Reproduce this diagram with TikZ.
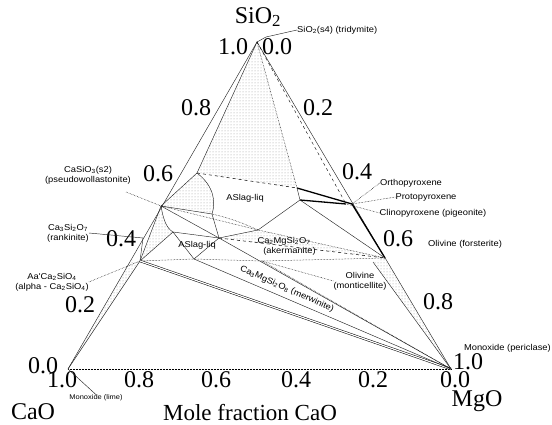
\documentclass[tikz,border=0pt]{standalone}
\usepackage{fontspec}
\setmainfont{Liberation Serif}
\newfontfamily\lblfont[FakeStretch=1.1]{Liberation Sans}
\usetikzlibrary{patterns}

\begin{document}
\begin{tikzpicture}[x=1pt,y=-1pt,
  tick/.style={font=\fontsize{24}{24}\selectfont,inner sep=0pt},
  phase/.style={font=\lblfont\fontsize{8.5}{10}\selectfont,inner sep=0pt,align=center},
  bnd/.style={line width=0.45pt,black!85},
  heavy/.style={line width=1.3pt},
  tie/.style={densely dotted,line width=0.5pt},
  stip/.style={pattern=dots,pattern color=black!40}]
\useasboundingbox (0,0) rectangle (552,425);

% corners and compounds
\coordinate (S) at (257,42);
\coordinate (C) at (68,369);
\coordinate (M) at (451,369);
\coordinate (wo) at (161,206);
\coordinate (rk) at (143,238);
\coordinate (cs) at (140,261);
\coordinate (e1) at (131,260);
\coordinate (la) at (197,173);
\coordinate (lb) at (297,188);
\coordinate (lc) at (300,200);
\coordinate (ld) at (212,214);
\coordinate (le) at (258,230);
\coordinate (lf) at (173,232);
\coordinate (ak) at (219,238);
\coordinate (mw) at (194,259);
\coordinate (mo) at (262,261);
\coordinate (px) at (352,204);
\coordinate (pi) at (346,204);
\coordinate (fo) at (385,258);
\coordinate (fb) at (373,262);

% two-phase regions
\fill[stip] (S) -- (la) -- (lb) -- cycle;
\fill[stip] (wo) -- (la) .. controls (214,186) and (216,202) .. (ld) -- cycle;
\fill[stip] (wo) .. controls (163,218) and (166,228) .. (lf) -- (cs) -- cycle;
\fill[stip] (C) -- (cs) -- (e1) -- cycle;
\fill[stip] (fb) -- (fo) -- (M) -- cycle;
\fill[stip] (le) -- (ak) -- (fo) -- cycle;

% triangle
\draw[bnd] (C) -- (S) -- (M);
\draw[tie] (C) -- (M);
\draw[dashed,line width=0.4pt] (S) -- (pi);
\draw[heavy] (px) -- (fo);

% phase boundaries and tie lines
\draw[bnd] (C) -- (cs) -- (wo);
\draw[bnd] (cs) -- (rk);
\draw[bnd] (S) -- (la) -- (wo);
\draw[tie] (S) -- (lb);
\draw[dashed,line width=0.5pt] (la) -- (lb);
\draw[heavy] (lb) -- (px);
\draw[heavy] (lc) -- (pi);
\draw[bnd] (lb) -- (lc) -- (le);
\draw[bnd] (la) .. controls (214,186) and (216,202) .. (ld) -- (ak);
\draw[tie] (ld) .. controls (230,218) and (245,224) .. (le);
\draw[bnd] (wo) -- (ld);
\draw[bnd] (wo) -- (ak);
\draw[tie] (wo) -- (le);
\draw[bnd] (wo) .. controls (163,218) and (166,228) .. (lf) -- (mw) -- (ak) -- (lf);
\draw[bnd] (cs) -- (lf);
\draw[tie] (cs) -- (mw) -- (mo) -- (fo);
\draw[bnd] (ak) -- (le);
\draw[dashed,line width=0.5pt] (ak) -- (fo);
\draw[bnd] (lc) -- (fo);
\draw[tie] (le) -- (fo);
\draw[double,double distance=1.2pt,line width=0.5pt] (cs) -- (M);
\draw[bnd] (mw) -- (M);
\draw[bnd] (ak) -- (M);
\draw[tie] (mo) -- (M);
\draw[bnd] (fb) -- (M);

% axis numbers
\foreach \v/\x/\y [count=\i] in {1.0/233/47,0.8/196/108,0.6/158/174,0.4/121/239,0.2/80/305,0.0/43/366}
  \node[tick] (left\i) at (\x,\y) {\v};
\foreach \v/\x/\y [count=\i] in {0.0/277/47,0.2/318/108,0.4/357/172,0.6/398/239,0.8/438/302,1.0/468/362}
  \node[tick] (right\i) at (\x,\y) {\v};
\foreach \v/\x [count=\i] in {1.0/62,0.8/139,0.6/216,0.4/296,0.2/373,0.0/455}
  \node[tick] (bottom\i) at (\x,380) {\v};

\node[tick] (sio) at (258,17) {SiO\textsubscript{2}};
\node[tick] (cao) at (33,412) {CaO};
\node[tick] (mgo) at (477,401) {MgO};
\node[tick,font=\fontsize{23}{23}\selectfont] (axis) at (250,413) {Mole fraction CaO};

% phase names
\coordinate (tk) at (266,37);
\node[phase,anchor=west] (tri) at (297,30) {SiO\textsubscript{2}(s4) (tridymite)};
\draw[bnd] (S) -- (tk) -- (tri.west);

\coordinate (pw1) at (126,192);
\node[phase] (pwo) at (88,175) {CaSiO\textsubscript{3}(s2)\\(pseudowollastonite)};
\draw[tie] (pw1) -- (wo);

\node[phase] (rnk) at (68,233) {Ca\textsubscript{3}Si\textsubscript{2}O\textsubscript{7}\\(rankinite)};
\draw[bnd] (rnk.east) -- (rk);

\node[phase] (alp) at (52,282) {Aa'Ca\textsubscript{2}SiO\textsubscript{4}\\(alpha - Ca\textsubscript{2}SiO\textsubscript{4})};
\draw[tie] (alp.east) -- (cs);

\node[phase,font=\lblfont\fontsize{6.8}{8}\selectfont] (lim) at (96,398) {Monoxide (lime)};
\draw[bnd] (C) -- (lim.north);

\node[phase,anchor=east] (per) at (551,348) {Monoxide (periclase)};

\node[phase] (opx) at (411,183) {Orthopyroxene};
\node[phase] (ppx) at (426,197) {Protopyroxene};
\node[phase] (cpx) at (433,213) {Clinopyroxene (pigeonite)};
\draw[tie] (opx.west) -- (px);
\draw[tie] (ppx.west) -- (px);
\draw[tie] (cpx.west) -- (pi);

\node[phase] (ofo) at (465,244) {Olivine (forsterite)};
\node[phase] (omo) at (360,281) {Olivine\\(monticellite)};
\draw[tie] (omo.west) -- (mo);

\node[phase] (liq1) at (245,198) {ASlag-liq};
\node[phase] (liq2) at (197,245) {ASlag-liq};
\node[phase] (akl) at (284,246) {Ca\textsubscript{2}MgSi\textsubscript{2}O\textsubscript{7}\\\hspace*{11pt}(akermanite)};
\node[phase,rotate=-24] (mwl) at (287,289) {Ca\textsubscript{3}MgSi\textsubscript{2}O\textsubscript{8} (merwinite)};
\end{tikzpicture}
\end{document}
